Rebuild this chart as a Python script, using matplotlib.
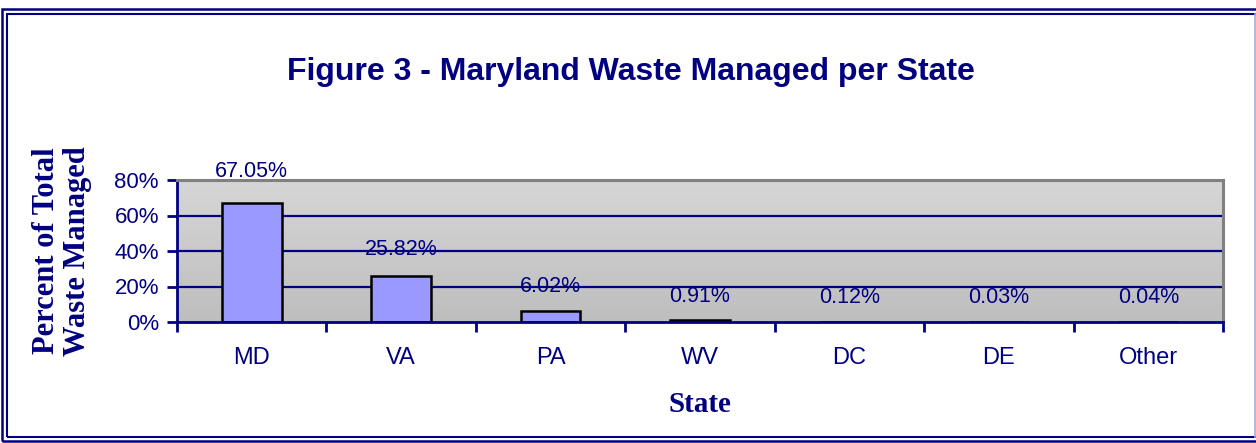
import numpy as np
import matplotlib
matplotlib.use("Agg")
import matplotlib.pyplot as plt
from matplotlib.patches import Rectangle
from matplotlib.lines import Line2D

states = ["MD", "VA", "PA", "WV", "DC", "DE", "Other"]
percent = [67.05, 25.82, 6.02, 0.91, 0.12, 0.03, 0.04]
yticks = [0, 20, 40, 60, 80]

navy = "#000080"
sans = ["Liberation Sans", "DejaVu Sans"]
serif = ["Liberation Serif", "DejaVu Serif"]

fig = plt.figure(figsize=(12.56, 4.43), dpi=100)
W, H = 1256, 443


def fx(px):
    return px / W


def fy(py):
    return 1 - py / H


# double frame (right side runs off the picture)
fig.patches.append(Rectangle((fx(2), fy(441)), fx(1260), 432 / H, transform=fig.transFigure,
                             fill=False, ec=navy, lw=1.8))
fig.patches.append(Rectangle((fx(7), fy(437)), fx(1260), 423 / H, transform=fig.transFigure,
                             fill=False, ec=navy, lw=1.5))
fig.lines.append(Line2D([fx(1255), fx(1255)], [fy(14), fy(437)], transform=fig.transFigure,
                        color="#a8a8d8", lw=1.2))

ax = fig.add_axes([fx(177), fy(322), 1046 / W, 142 / H])
x = np.arange(len(states))
ax.set_xlim(-0.5, len(states) - 0.5)
ax.set_ylim(0, 80)

# grey gradient plot area
grad = np.linspace(0, 1, 100).reshape(-1, 1)
ax.imshow(grad, extent=[-0.5, len(states) - 0.5, 0, 80], aspect="auto",
          cmap=matplotlib.colors.LinearSegmentedColormap.from_list("g", ["#bebebe", "#d6d6d6"]),
          origin="lower", zorder=0)

for g in yticks[1:-1]:
    ax.axhline(g, color=navy, lw=1.6, zorder=1)

ax.bar(x, percent, width=0.4, color="#9999ff", edgecolor="black", lw=1.8, zorder=2)

for xi, v in zip(x, percent):
    ax.text(xi, v * 1.06 + 13.5, f"{v:.2f}%", ha="center", va="center",
            color=navy, fontsize=15.5, family=sans, zorder=3)

for side in ["left", "bottom"]:
    ax.spines[side].set_color(navy)
    ax.spines[side].set_linewidth(2)
for side in ["top", "right"]:
    ax.spines[side].set_color("#808080")
    ax.spines[side].set_linewidth(2.2)

ax.set_yticks(yticks)
ax.set_yticklabels([f"{t}%" for t in yticks], family=sans, fontsize=16, color=navy)
ax.tick_params(axis="y", direction="out", length=7, width=2, color=navy, pad=6)

ax.set_xticks(np.arange(len(states) + 1) - 0.5)
ax.set_xticklabels([])
ax.tick_params(axis="x", which="major", direction="out", length=7, width=2, color=navy)
ax.set_xticks(x, minor=True)
ax.set_xticklabels(states, minor=True, family=sans, fontsize=17, color=navy)
ax.tick_params(axis="x", which="minor", length=0, pad=18)

fig.text(fx(62), fy(251), "Percent of Total\nWaste Managed", rotation=90, ha="center",
         va="center", family=serif, fontweight="bold", fontsize=22, color=navy,
         linespacing=1.05)
fig.text(fx(700), fy(405), "State", ha="center", va="center", family=serif,
         fontweight="bold", fontsize=21, color=navy)

fig.text(fx(631), fy(72), "Figure 3 - Maryland Waste Managed per State", ha="center",
         va="center", family=sans, fontweight="bold", fontsize=23, color=navy)

fig.savefig("out.png", dpi=100)
